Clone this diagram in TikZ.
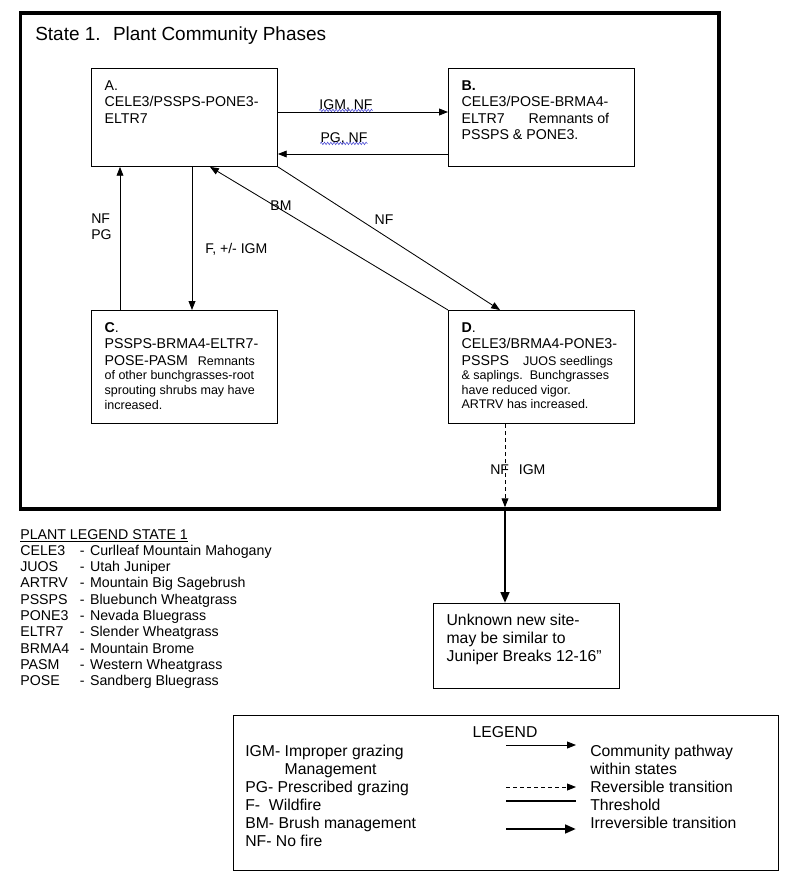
\documentclass[tikz,border=0pt]{standalone}
\usepackage{fontspec}
\setmainfont{Liberation Sans}
\usetikzlibrary{positioning}
\usetikzlibrary{arrows.meta}
\usetikzlibrary{decorations.pathmorphing}
\usepackage{xcolor}
\definecolor{spellblue}{RGB}{70,70,210}

\newcommand{\titlefont}{\fontsize{13.5}{16}\selectfont}
\newcommand{\phasefont}{\fontsize{10.1}{11.7}\selectfont}
\newcommand{\notefont}{\fontsize{8.9}{10.4}\selectfont}
\newcommand{\pathfont}{\fontsize{10}{10.7}\selectfont}
\newcommand{\sitefont}{\fontsize{11.2}{12.8}\selectfont}
\newcommand{\plantfont}{\fontsize{10.1}{11.6}\selectfont}

\begin{document}
\begin{tikzpicture}[x=0.025cm, y=-0.025cm,
    phase/.style={draw, line width=0.6pt, anchor=north west, inner xsep=0.33cm, inner ysep=0.3cm, font=\phasefont},
    lbl/.style={font=\pathfont, inner sep=0pt},
    pathway/.style={-{Triangle[length=0.22cm,width=0.17cm]}, line width=0.6pt},
    reversible/.style={pathway, dash pattern=on 0.1cm off 0.075cm},
    threshold/.style={line width=1.6pt},
    irreversible/.style={-{Triangle[length=0.27cm,width=0.21cm]}, line width=2pt},
    squiggle/.style={spellblue, line width=0.4pt, decorate, decoration={snake, segment length=0.08cm, amplitude=0.03cm}}]
    \useasboundingbox (0,0) rectangle (800,884);

    % State 1 frame and its phases
    \node[draw, line width=2.8pt, outer sep=0pt, inner sep=0pt, anchor=north west, minimum width=17.46cm, minimum height=12.4cm] (state) at (20.5,13) {};
    \node[anchor=base west, inner sep=0pt, font=\titlefont] (title) at (35,40) {State 1.~ Plant Community Phases};

    \node[phase] (A) at (91,68) {\parbox[t][1.85cm][t]{3.99cm}{A.\\CELE3/PSSPS-PONE3-\\ELTR7}};
    \node[phase] (B) at (448,68) {\parbox[t][1.85cm][t]{3.99cm}{\textbf{B.}\\CELE3/POSE-BRMA4-\\ELTR7\hspace{17pt}Remnants of\\PSSPS \& PONE3.}};
    \node[phase] (C) at (91,310) {\parbox[t][2.23cm][t]{3.99cm}{\textbf{C}.\\PSSPS-BRMA4-ELTR7-\\POSE-PASM\hspace{7pt}{\notefont Remnants}\\[-1.3pt]{\notefont of other bunchgrasses-root}\\[-1.3pt]{\notefont sprouting shrubs may have}\\[-1.3pt]{\notefont increased.}}};
    \node[phase] (D) at (448,310) {\parbox[t][2.23cm][t]{3.99cm}{\textbf{D}.\\CELE3/BRMA4-PONE3-\\PSSPS\hspace{10pt}{\notefont JUOS seedlings}\\[-1.3pt]{\notefont \& saplings.\ \ Bunchgrasses}\\[-1.3pt]{\notefont have reduced vigor.}\\[-1.3pt]{\notefont ARTRV has increased.}}};
    \node[phase, font=\sitefont, inner ysep=0.26cm] (E) at (433,603) {\parbox[t][1.605cm][t]{3.99cm}{Unknown new site-\\may be similar to\\Juniper Breaks 12-16”}};

    \draw[pathway] (A.east |- 0,112) -- (B.west |- 0,112);
    \draw[pathway] (B.west |- 0,154) -- (A.east |- 0,154);
    \draw[pathway] (C.north -| 120,0) -- (A.south -| 120,0);
    \draw[pathway] (A.south -| 192,0) -- (C.north -| 192,0);
    \draw[pathway] (D.north west) -- (A.south -| 210,0);
    \draw[pathway] (A.south east) -- (D.north -| 500,0);
    \draw[reversible, shorten >=1.4pt] (D.south -| 505,0) -- (state.south -| 505,0);
    \draw[irreversible] (state.south -| 505,0) -- (E.north -| 505,0);

    \node[lbl, anchor=base] (igmnf) at (346,109) {IGM, NF};
    \node[lbl, anchor=base] (pgnf) at (344,142) {PG, NF};
    \draw[squiggle] ([yshift=-1pt]igmnf.base west) -- ([yshift=-1pt]igmnf.base east);
    \draw[squiggle] ([yshift=-1pt]pgnf.base west) -- ([yshift=-1pt]pgnf.base east);
    \node[lbl, anchor=base west, align=left] (nfpg) at (91,239) {NF\\PG};
    \node[lbl, anchor=base west] (figm) at (205,253) {F, +/- IGM};
    \node[lbl, anchor=base] (bm) at (281,210) {BM};
    \node[lbl, anchor=base] (nfd) at (384,224) {NF};
    \node[lbl, anchor=base west] (nfigm) at (490,474) {NF\hspace{7pt}IGM};

    % plant legend
    \node[anchor=base west, inner sep=0pt, font=\plantfont] (plants) at (20,539) {%
        \begin{tabular}[t]{@{}p{1.49cm}@{}p{0.255cm}@{}l@{}}
        \multicolumn{3}{@{}l@{}}{\underline{PLANT LEGEND STATE 1}}\\
        CELE3 & - & Curlleaf Mountain Mahogany\\
        JUOS & - & Utah Juniper\\
        ARTRV & - & Mountain Big Sagebrush\\
        PSSPS & - & Bluebunch Wheatgrass\\
        PONE3 & - & Nevada Bluegrass\\
        ELTR7 & - & Slender Wheatgrass\\
        BRMA4 & - & Mountain Brome\\
        PASM & - & Western Wheatgrass\\
        POSE & - & Sandberg Bluegrass
        \end{tabular}};

    % legend
    \node[draw, line width=0.6pt, anchor=north west, inner sep=0pt, minimum width=13.625cm, minimum height=3.875cm] (legend) at (233,715) {};
    \node[anchor=base, inner sep=0pt, font=\sitefont] (legtitle) at (505,737) {LEGEND};
    \node[anchor=base west, inner sep=0pt, font=\sitefont, align=left] (abbrev) at (245,846) {IGM- Improper grazing\\\hspace*{28pt}Management\\PG- Prescribed grazing\\F-\ \ Wildfire\\BM- Brush management\\NF- No fire};
    \node[anchor=base west, inner sep=0pt, font=\sitefont, align=left] (meaning) at (590,828) {Community pathway\\within states\\Reversible transition\\Threshold\\Irreversible transition};
    \foreach \y/\sty in {745/pathway, 787/reversible, 801/threshold, 829/irreversible} {
        \coordinate (s\y) at (506,\y);
        \coordinate (e\y) at (576,\y);
        \draw[\sty] (s\y) -- (e\y);
    }
\end{tikzpicture}
\end{document}
